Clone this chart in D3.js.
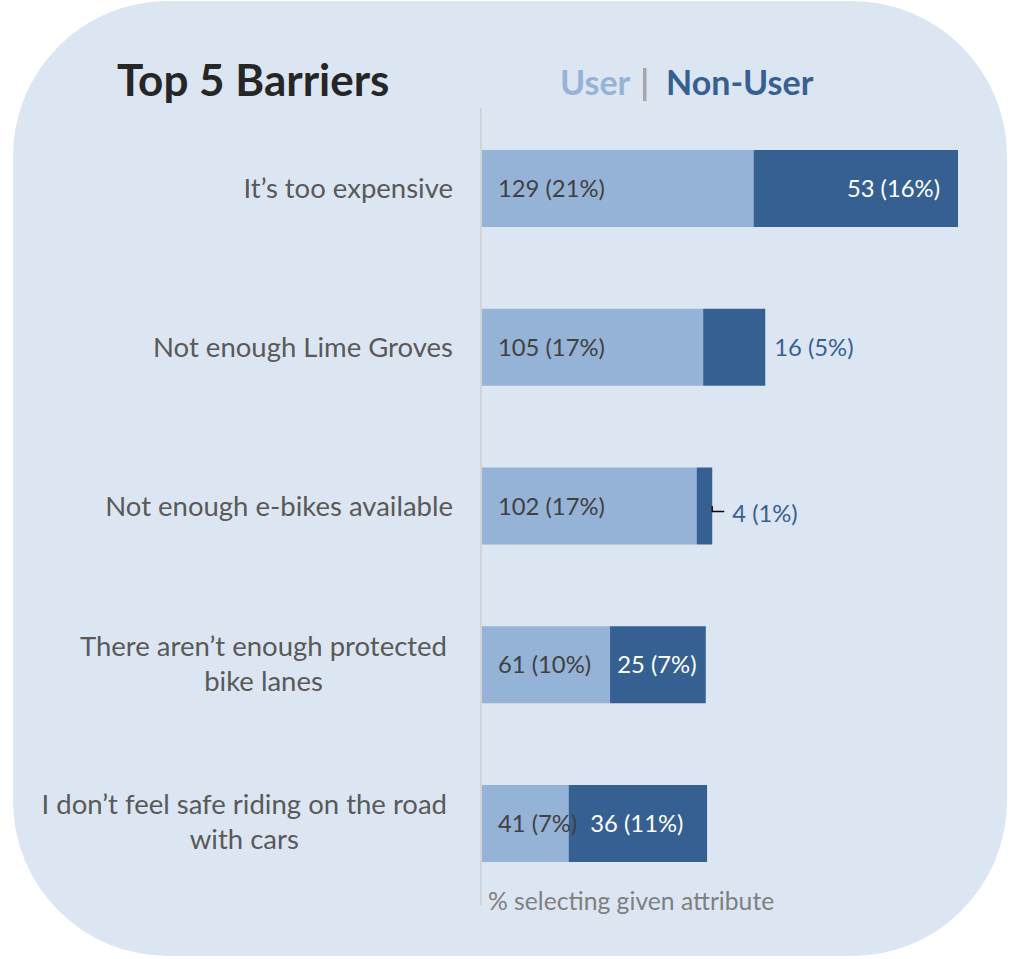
<!DOCTYPE html>
<html><head><meta charset="utf-8">
<script src="https://cdn.jsdelivr.net/npm/d3@7"></script>
<style>body{margin:0;background:#fff;} svg{display:block;}</style>
</head><body>
<script>
// ---- data ----
const categories = [
  ["It\u2019s too expensive"],
  ["Not enough Lime Groves"],
  ["Not enough e-bikes available"],
  ["There aren\u2019t enough protected", "bike lanes"],
  ["I don\u2019t feel safe riding on the road", "with cars"]
];
const userCounts = [129, 105, 102, 61, 41];
const userPct = [21.0, 17.1, 16.6, 9.9, 6.7];
const nonUserCounts = [53, 16, 4, 25, 36];
const nonUserPct = [15.8, 4.8, 1.2, 7.4, 10.7];
const seriesNames = ["User", "Non-User"];
const titleText = "Top 5 Barriers";
const axisNote = "% selecting given attribute";

// ---- layout / style ----
const W = 1013, H = 959;
const FONT = "Lato, 'Open Sans', sans-serif";
const C = {bg:"#dce6f2", user:"#95b3d7", non:"#366092", cat:"#595959", val:"#404040", title:"#262626", axis:"#d0d4da", note:"#7f7f7f", sep:"#a6a6a6"};
const nonLabelMode = ["insideEnd", "outside", "leader", "center", "center"];

const svg = d3.select("body").append("svg").attr("width", W).attr("height", H);
svg.append("rect").attr("x", 13).attr("y", 1).attr("width", 994).attr("height", 955)
  .attr("rx", 155).attr("ry", 155).attr("fill", C.bg);

const idx = d3.range(categories.length);
const totals = idx.map(i => userPct[i] + nonUserPct[i]);
const x = d3.scaleLinear().domain([0, d3.max(totals)]).range([482, 958]);
const y = d3.scaleBand().domain(idx).range([110, 902]).paddingInner(0.515).paddingOuter(0.252);
const bw = y.bandwidth();

// axis line
svg.append("line").attr("x1", 481).attr("x2", 481).attr("y1", 108).attr("y2", 905)
  .attr("stroke", C.axis).attr("stroke-width", 2);

// bars
svg.append("g").selectAll("rect").data(idx).join("rect")
  .attr("x", x(0)).attr("y", i => y(i)).attr("width", i => x(userPct[i]) - x(0)).attr("height", bw)
  .attr("fill", C.user);
svg.append("g").selectAll("rect").data(idx).join("rect")
  .attr("x", i => x(userPct[i])).attr("y", i => y(i))
  .attr("width", i => x(userPct[i] + nonUserPct[i]) - x(userPct[i])).attr("height", bw)
  .attr("fill", C.non);

// category labels
const catG = svg.append("g").attr("font-family", FONT).attr("font-size", 27.5).attr("fill", C.cat);
idx.forEach(i => {
  const lines = categories[i];
  const cy = y(i) + bw / 2;
  if (lines.length === 1) {
    catG.append("text").attr("x", 453).attr("y", cy + 9.5).attr("text-anchor", "end").text(lines[0]);
  } else {
    const t = catG.append("text").attr("text-anchor", "middle");
    t.text(lines[0]);
    const w = t.node().getComputedTextLength();
    const cx = 447 - w / 2;
    t.attr("x", cx).attr("y", cy - 9);
    catG.append("text").attr("x", cx).attr("y", cy + 26).attr("text-anchor", "middle").text(lines[1]);
  }
});

// value labels
const valG = svg.append("g").attr("font-family", FONT).attr("font-size", 23.8);
const lab = (n, p) => `${n} (${Math.round(p)}%)`;
idx.forEach(i => {
  const cy = y(i) + bw / 2;
  valG.append("text").attr("x", x(0) + 16).attr("y", cy + 8.5).attr("fill", C.val).text(lab(userCounts[i], userPct[i]));
  const x0 = x(userPct[i]), x1 = x(userPct[i] + nonUserPct[i]);
  const m = nonLabelMode[i];
  const t = valG.append("text").text(lab(nonUserCounts[i], nonUserPct[i]));
  if (m === "insideEnd") t.attr("x", x1 - 18).attr("y", cy + 8.5).attr("text-anchor", "end").attr("fill", "#fff");
  else if (m === "center") t.attr("x", (x0 + x1) / 2 - 1).attr("y", cy + 8.5).attr("text-anchor", "middle").attr("fill", "#fff");
  else if (m === "outside") t.attr("x", x1 + 9).attr("y", cy + 9).attr("fill", C.non);
  else {
    t.attr("x", x1 + 20).attr("y", cy + 16).attr("fill", C.non);
    svg.append("path").attr("d", `M${x1},${cy} V${cy + 5.5} H${x1 + 12}`)
      .attr("fill", "none").attr("stroke", "#000").attr("stroke-width", 1.3);
  }
});

// title and legend
svg.append("text").attr("x", 117).attr("y", 96).attr("font-family", FONT).attr("font-weight", 700)
  .attr("font-size", 44).attr("fill", C.title).text(titleText);
const legG = svg.append("g").attr("font-family", FONT).attr("font-weight", 700).attr("font-size", 34);
legG.append("text").attr("x", 560).attr("y", 95).attr("fill", C.user).text(seriesNames[0]);
legG.append("rect").attr("x", 643).attr("y", 68).attr("width", 3.5).attr("height", 33).attr("fill", C.sep);
legG.append("text").attr("x", 666).attr("y", 95).attr("fill", C.non).text(seriesNames[1]);

svg.append("text").attr("x", 488).attr("y", 910).attr("font-family", FONT).attr("font-size", 24.7)
  .attr("fill", C.note).text(axisNote);
</script>
</body></html>
